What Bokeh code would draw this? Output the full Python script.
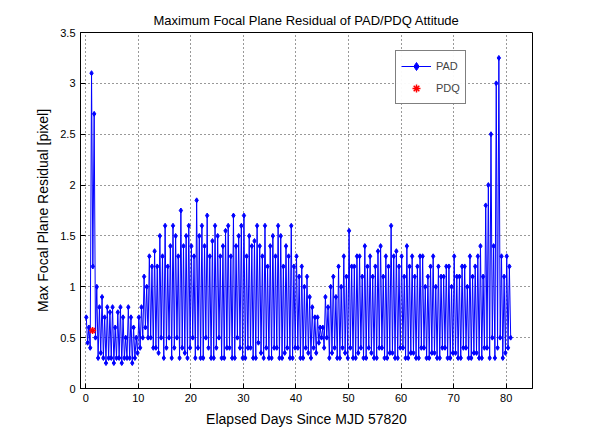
import numpy as np
from bokeh.plotting import figure
from bokeh.models import Legend, LegendItem, Range1d
from bokeh.embed import file_html
from bokeh.resources import INLINE

# per day: high, low, high, low (four samples per day)
pad_days = [
    [0.7, 0.45, 0.6, 0.4], [3.1, 1.2, 2.7, 0.5], [1.0, 0.3, 0.8, 0.35], [0.9, 0.3, 0.7, 0.25],
    [0.8, 0.3, 0.75, 0.3], [0.8, 0.25, 0.6, 0.3], [0.75, 0.3, 0.8, 0.25], [0.7, 0.3, 0.5, 0.3],
    [0.8, 0.3, 0.7, 0.25], [0.6, 0.3, 0.5, 0.35], [0.7, 0.4, 0.8, 0.5], [1.1, 0.6, 1.0, 0.5],
    [1.3, 0.5, 1.2, 0.4], [1.35, 0.4, 1.2, 0.35], [1.5, 0.5, 1.3, 0.3], [1.6, 0.4, 1.2, 0.5],
    [1.4, 0.3, 1.6, 0.4], [1.5, 0.5, 1.3, 0.3], [1.75, 0.4, 1.4, 0.35], [1.5, 0.3, 1.6, 0.4],
    [1.4, 0.5, 1.3, 0.3], [1.85, 0.4, 1.5, 0.3], [1.6, 0.3, 1.4, 0.5], [1.7, 0.4, 1.3, 0.3],
    [1.45, 0.3, 1.6, 0.4], [1.5, 0.5, 1.3, 0.3], [1.4, 0.3, 1.55, 0.4], [1.6, 0.4, 1.3, 0.3],
    [1.7, 0.3, 1.4, 0.5], [1.5, 0.4, 1.6, 0.3], [1.7, 0.3, 1.3, 0.4], [1.5, 0.4, 1.4, 0.3],
    [1.45, 0.3, 1.6, 0.45], [1.4, 0.35, 1.3, 0.3], [1.6, 0.4, 1.2, 0.3], [1.4, 0.3, 1.5, 0.4],
    [1.3, 0.4, 1.6, 0.3], [1.5, 0.3, 1.2, 0.35], [1.4, 0.4, 1.3, 0.3], [1.6, 0.3, 1.2, 0.4],
    [1.3, 0.4, 1.1, 0.3], [1.2, 0.3, 1.0, 0.4], [1.1, 0.35, 0.9, 0.3], [0.8, 0.4, 0.7, 0.35],
    [0.7, 0.45, 0.6, 0.5], [0.6, 0.4, 0.9, 0.5], [0.8, 0.3, 1.0, 0.35], [1.1, 0.4, 0.9, 0.3],
    [1.2, 0.3, 1.0, 0.4], [1.3, 0.35, 1.1, 0.3], [1.55, 0.4, 1.2, 0.3], [1.2, 0.3, 1.3, 0.35],
    [1.3, 0.4, 1.1, 0.3], [1.4, 0.3, 1.2, 0.4], [1.3, 0.35, 1.1, 0.3], [1.2, 0.3, 1.35, 0.4],
    [1.4, 0.4, 1.1, 0.3], [1.3, 0.3, 1.2, 0.35], [1.6, 0.35, 1.3, 0.3], [1.35, 0.3, 1.2, 0.4],
    [1.3, 0.4, 1.1, 0.3], [1.4, 0.3, 1.2, 0.35], [1.3, 0.35, 1.1, 0.3], [1.2, 0.3, 1.3, 0.4],
    [1.3, 0.4, 1.0, 0.3], [1.1, 0.3, 1.2, 0.35], [1.3, 0.35, 1.0, 0.3], [1.2, 0.3, 1.1, 0.4],
    [1.1, 0.4, 1.2, 0.3], [1.2, 0.3, 1.0, 0.35], [1.3, 0.35, 1.1, 0.3], [1.1, 0.3, 1.2, 0.4],
    [1.2, 0.4, 1.0, 0.3], [1.3, 0.3, 1.1, 0.35], [1.2, 0.35, 1.3, 0.3], [1.4, 0.3, 1.1, 0.4],
    [1.8, 0.4, 2.0, 0.3], [2.5, 0.5, 1.4, 0.3], [3.0, 0.4, 3.25, 0.5], [1.3, 0.3, 1.1, 0.35],
    [1.3, 0.4, 1.2, 0.5],
]
pad_y = [v for day in pad_days for v in day]
pad_x = list(np.arange(len(pad_y)) * 0.25 + 0.1)
pdq_x = [1.3]
pdq_y = [0.57]

font = "Liberation Sans"
p = figure(width=582, height=429, output_backend="svg", toolbar_location=None,
           title="Maximum Focal Plane Residual of PAD/PDQ Attitude",
           min_border_left=80, min_border_right=50, min_border_top=32, min_border_bottom=41)
p.x_range = Range1d(-1, 85)
p.y_range = Range1d(0, 3.5)
p.title.align = "center"
p.title.text_font = font
p.title.text_font_size = "13px"
p.title.text_font_style = "normal"
p.title.text_color = "black"

line = p.line(pad_x, pad_y, color="blue", line_width=1)
pts = p.scatter(pad_x, pad_y, marker="diamond", size=5, color="blue")
pdq = p.scatter(pdq_x, pdq_y, marker="asterisk", size=7, line_color="red", line_width=1.5)

p.xaxis.ticker = list(range(0, 81, 10))
p.yaxis.ticker = [0, 0.5, 1, 1.5, 2, 2.5, 3, 3.5]
p.xaxis.axis_label = "Elapsed Days Since MJD 57820"
p.yaxis.axis_label = "Max Focal Plane Residual [pixel]"
for ax in (p.xaxis, p.yaxis):
    ax.axis_label_text_font = font
    ax.axis_label_text_font_size = "14px"
    ax.axis_label_text_font_style = "normal"
    ax.axis_label_text_color = "black"
    ax.axis_label_standoff = 6
    ax.major_label_text_font = font
    ax.major_label_text_font_size = "11px"
    ax.major_label_text_color = "black"
    ax.major_tick_in = 5
    ax.major_tick_out = 0
    ax.minor_tick_line_color = None
    ax.axis_line_color = "black"
    ax.major_tick_line_color = "black"
p.grid.grid_line_color = "black"
p.grid.grid_line_dash = "1 3"
p.grid.grid_line_alpha = 0.8
p.outline_line_color = "black"

legend = Legend(items=[LegendItem(label="PAD", renderers=[line, pts]),
                       LegendItem(label="PDQ", renderers=[pdq])],
                location=(315, 284), border_line_color="black",
                label_text_font=font, label_text_font_size="11px",
                glyph_width=30, spacing=2, padding=5)
p.add_layout(legend)

open("out.html", "w").write(file_html(p, INLINE))
